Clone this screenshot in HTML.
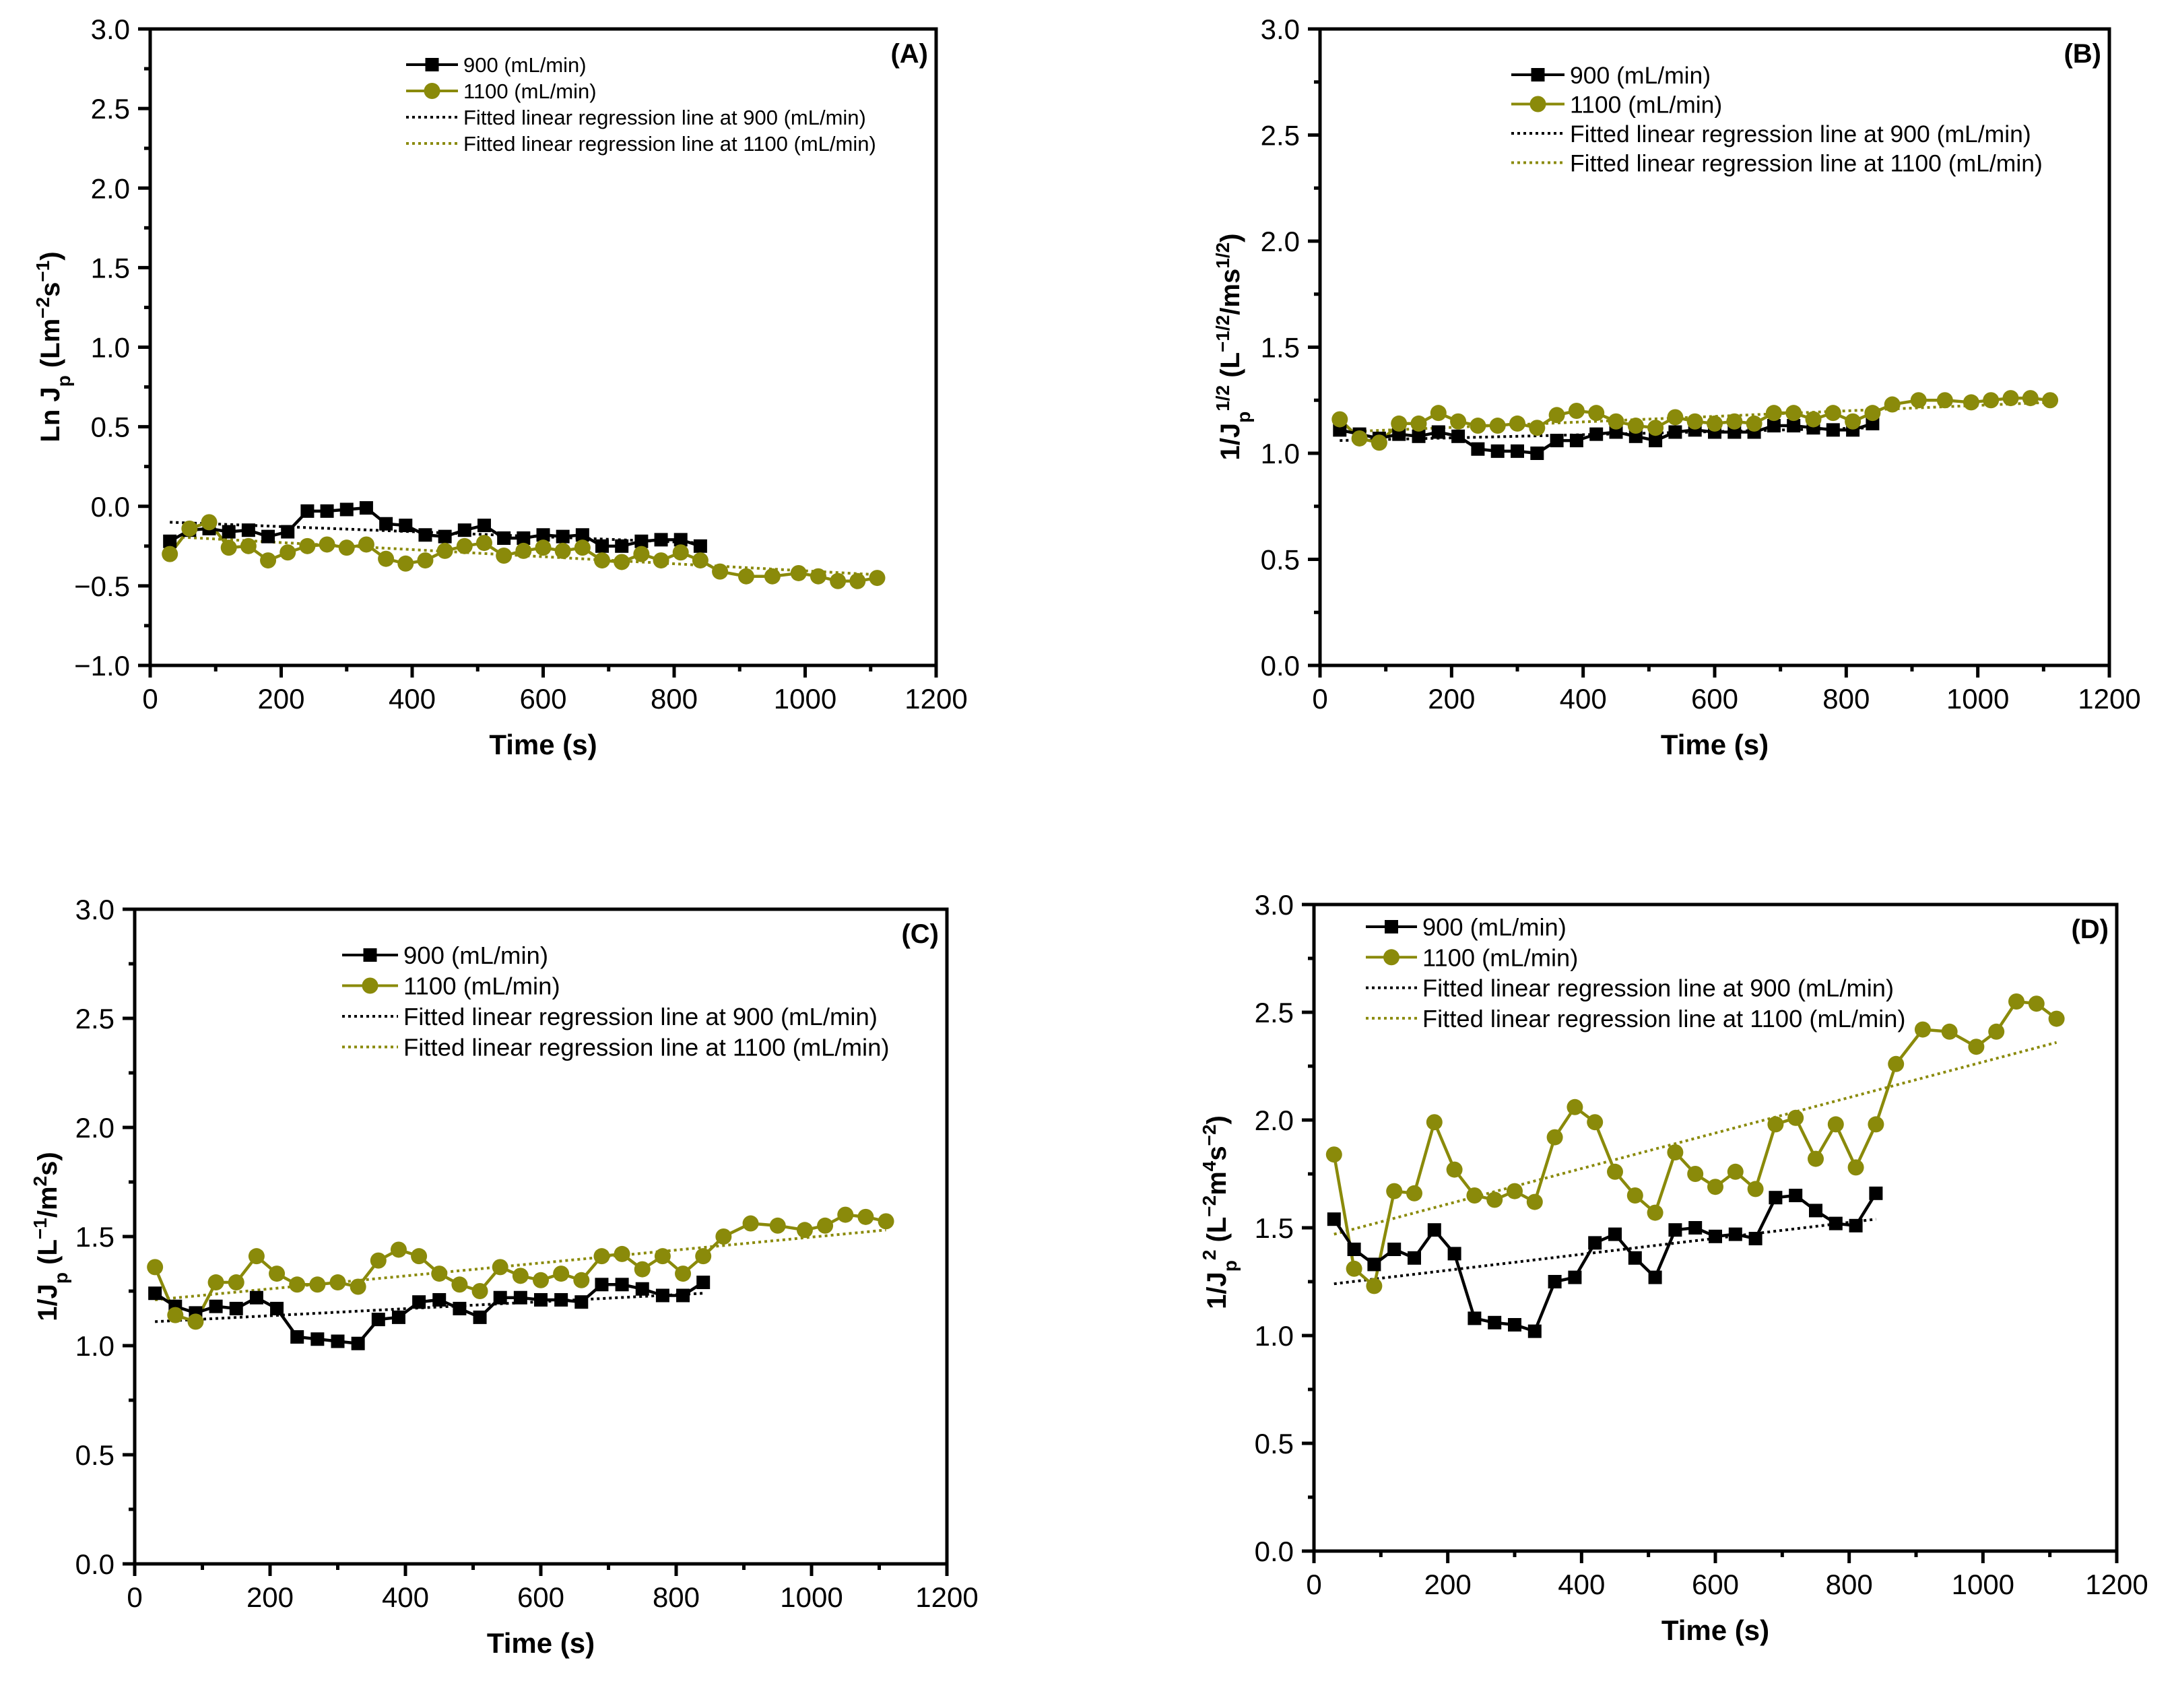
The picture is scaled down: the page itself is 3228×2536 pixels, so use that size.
<!DOCTYPE html>
<html><head><meta charset="utf-8"><style>
html,body{margin:0;padding:0;background:#fff}
svg{display:block}
text{font-family:"Liberation Sans",Arial,sans-serif;fill:#000}
</style></head><body>
<svg id="fig" width="3228" height="2536" viewBox="0 0 3228 2536" xmlns="http://www.w3.org/2000/svg">
<rect width="3228" height="2536" fill="#fff"/>
</svg>
<script>
const timeA = [30,60,90,120,150,180,210,240,270,300,330,360,390,420,450,480,510,540,570,600,630,660,690,720,750,780,810,840];
const timeB = [30,60,90,120,150,180,210,240,270,300,330,360,390,420,450,480,510,540,570,600,630,660,690,720,750,780,810,840,870,910,950,990,1020,1050,1080,1110];
const xTicks = [0,200,400,600,800,1000,1200];

const lnJ900 = [-0.22,-0.15,-0.14,-0.16,-0.15,-0.19,-0.16,-0.03,-0.03,-0.02,-0.01,-0.11,-0.12,-0.18,-0.19,-0.15,-0.12,-0.20,-0.20,-0.18,-0.19,-0.18,-0.25,-0.25,-0.22,-0.21,-0.21,-0.25];
const lnJ1100 = [-0.30,-0.14,-0.10,-0.26,-0.25,-0.34,-0.29,-0.25,-0.24,-0.26,-0.24,-0.33,-0.36,-0.34,-0.28,-0.25,-0.23,-0.31,-0.28,-0.26,-0.28,-0.26,-0.34,-0.35,-0.30,-0.34,-0.29,-0.34,-0.41,-0.44,-0.44,-0.42,-0.44,-0.47,-0.47,-0.45];
const lnFit900 = [-0.10,-0.23];
const lnFit1100 = [-0.19,-0.43];

const sq900 = [1.11,1.09,1.07,1.09,1.08,1.10,1.08,1.02,1.01,1.01,1.00,1.06,1.06,1.09,1.10,1.08,1.06,1.10,1.11,1.10,1.10,1.10,1.13,1.13,1.12,1.11,1.11,1.14];
const sq1100 = [1.16,1.07,1.05,1.14,1.14,1.19,1.15,1.13,1.13,1.14,1.12,1.18,1.20,1.19,1.15,1.13,1.12,1.17,1.15,1.14,1.15,1.14,1.19,1.19,1.16,1.19,1.15,1.19,1.23,1.25,1.25,1.24,1.25,1.26,1.26,1.25];
const sqFit900 = [1.06,1.12];
const sqFit1100 = [1.10,1.24];

const inv900 = [1.24,1.18,1.15,1.18,1.17,1.22,1.17,1.04,1.03,1.02,1.01,1.12,1.13,1.20,1.21,1.17,1.13,1.22,1.22,1.21,1.21,1.20,1.28,1.28,1.26,1.23,1.23,1.29];
const inv1100 = [1.36,1.14,1.11,1.29,1.29,1.41,1.33,1.28,1.28,1.29,1.27,1.39,1.44,1.41,1.33,1.28,1.25,1.36,1.32,1.30,1.33,1.30,1.41,1.42,1.35,1.41,1.33,1.41,1.50,1.56,1.55,1.53,1.55,1.60,1.59,1.57];
const invFit900 = [1.11,1.24];
const invFit1100 = [1.21,1.53];

const inv2_900 = [1.54,1.40,1.33,1.40,1.36,1.49,1.38,1.08,1.06,1.05,1.02,1.25,1.27,1.43,1.47,1.36,1.27,1.49,1.50,1.46,1.47,1.45,1.64,1.65,1.58,1.52,1.51,1.66];
const inv2_1100 = [1.84,1.31,1.23,1.67,1.66,1.99,1.77,1.65,1.63,1.67,1.62,1.92,2.06,1.99,1.76,1.65,1.57,1.85,1.75,1.69,1.76,1.68,1.98,2.01,1.82,1.98,1.78,1.98,2.26,2.42,2.41,2.34,2.41,2.55,2.54,2.47];
const inv2Fit900 = [1.24,1.54];
const inv2Fit1100 = [1.47,2.36];

const yTicksA = [-1.0,-0.5,0.0,0.5,1.0,1.5,2.0,2.5,3.0];
const yTicksB = [0.0,0.5,1.0,1.5,2.0,2.5,3.0];

const NS = "http://www.w3.org/2000/svg";
const OLIVE = "#8a8a0a";
const svg = document.getElementById("fig");
function mk(tag, attrs, parent){
  const e = document.createElementNS(NS, tag);
  for (const k in attrs) e.setAttribute(k, attrs[k]);
  (parent||svg).appendChild(e);
  return e;
}
function fmt(v){ const s = v.toFixed(1); return v < 0 ? "\u2212" + s.slice(1) : s; }

function panel(p){
  const g = mk("g", {});
  
  
  const X = v => p.L + (v - 0) / 1200 * (p.R - p.L);
  const Y = v => p.B - (v - p.ymin) / (p.ymax - p.ymin) * (p.B - p.T);
  const fr = mk("rect", {x:p.L, y:p.T, width:p.R-p.L, height:p.B-p.T, fill:"none", stroke:"#000", "stroke-width":5}, g);
  
  
  for (let v = 0; v <= 1200; v += 100){
    const major = v % 200 === 0;
    const t = mk("line", {x1:X(v), x2:X(v), y1:p.B, y2:p.B + (major?18:9), stroke:"#000", "stroke-width":5}, g);
    
    
  }
  xTicks.forEach(v => {
    const t = mk("text", {x:X(v), y:p.B+64, "font-size":42, "text-anchor":"middle"}, g);
    t.textContent = String(v);
    
    
  });
  for (let v = p.ymin; v <= p.ymax + 1e-9; v += 0.25){
    const major = Math.abs(v*2 - Math.round(v*2)) < 1e-6;
    const t = mk("line", {x1:p.L - (major?18:9), x2:p.L, y1:Y(v), y2:Y(v), stroke:"#000", "stroke-width":5}, g);
    
    
  }
  p.yTicks.forEach(v => {
    const t = mk("text", {x:p.L-30, y:Y(v)+15, "font-size":42, "text-anchor":"end"}, g);
    t.textContent = fmt(v);
    
    
  });
  const f1 = mk("line", {x1:X(30), y1:Y(p.fit900[0]), x2:X(840), y2:Y(p.fit900[1]), stroke:"#000", "stroke-width":4, "stroke-dasharray":"4 5"}, g);
  
  
  const f2 = mk("line", {x1:X(30), y1:Y(p.fit1100[0]), x2:X(1110), y2:Y(p.fit1100[1]), stroke:OLIVE, "stroke-width":4, "stroke-dasharray":"4 5"}, g);
  
  
  const l2 = mk("polyline", {points: timeB.map((t,i)=>X(t)+","+Y(p.s1100[i])).join(" "), fill:"none", stroke:OLIVE, "stroke-width":4.5}, g);
  
  
  const l1 = mk("polyline", {points: timeA.map((t,i)=>X(t)+","+Y(p.s900[i])).join(" "), fill:"none", stroke:"#000", "stroke-width":4.5}, g);
  
  
  timeA.forEach((t,i) => {
    const m = mk("rect", {x:X(t)-10, y:Y(p.s900[i])-10, width:20, height:20, fill:"#000"}, g);
    
    
  });
  timeB.forEach((t,i) => {
    const m = mk("circle", {cx:X(t), cy:Y(p.s1100[i]), r:12, fill:OLIVE}, g);
    
    
  });
  const lg = mk("g", {}, g);
  
  
  const labels = ["900 (mL/min)","1100 (mL/min)","Fitted linear regression line at 900 (mL/min)","Fitted linear regression line at 1100 (mL/min)"];
  labels.forEach((lab,i) => {
    const y = p.leg.y + i*p.leg.dy;
    const col = (i % 2 === 0) ? "#000" : OLIVE;
    const ent = mk("g", {}, lg);
    
    
    const ln = mk("line", {x1:p.leg.x1, x2:p.leg.x2, y1:y, y2:y, stroke: col, "stroke-width":4, "stroke-dasharray": i>=2 ? "4 5" : "none"}, ent);
    
    
    const mx = (p.leg.x1+p.leg.x2)/2;
    if (i === 0) { const m = mk("rect",{x:mx-10,y:y-10,width:20,height:20,fill:"#000"},ent);   }
    if (i === 1) { const m = mk("circle",{cx:mx,cy:y,r:12,fill:OLIVE},ent);   }
    const tx = mk("text", {x:p.leg.x2+8, y:y+p.leg.fs*0.36, "font-size":p.leg.fs}, ent);
    tx.textContent = lab;
    
    
  });
  const pl = mk("text", {x:p.R-12, y:p.T+50, "font-size":40, "font-weight":"bold", "text-anchor":"end"}, g);
  pl.textContent = p.label;
  
  
  const xt = mk("text", {x:(p.L+p.R)/2, y:p.B+132, "font-size":42, "font-weight":"bold", "text-anchor":"middle"}, g);
  xt.textContent = "Time (s)";
  
  
  const yt = mk("text", {x:0, y:0, "font-size":40, "font-weight":"bold", "text-anchor":"middle", transform:`translate(${p.ytx},${p.yty}) rotate(-90)`}, g);
  yt.innerHTML = p.ytitle;
  
  
}

panel({name:"panel-a", label:"(A)", L:223, R:1390, T:43, B:988, ymin:-1, ymax:3, yTicks:yTicksA,
  s900:lnJ900, s1100:lnJ1100, fit900:lnFit900, fit1100:lnFit1100,
  leg:{x1:603, x2:680, y:96, dy:39, fs:31}, ytx:88, yty:515,
  ytitle:'Ln J<tspan baseline-shift="sub" font-size="28">p</tspan> (Lm<tspan baseline-shift="super" font-size="28">\u22122</tspan>s<tspan baseline-shift="super" font-size="28">\u22121</tspan>)'});
panel({name:"panel-b", label:"(B)", L:1960, R:3132, T:43, B:988, ymin:0, ymax:3, yTicks:yTicksB,
  s900:sq900, s1100:sq1100, fit900:sqFit900, fit1100:sqFit1100,
  leg:{x1:2244, x2:2323, y:111, dy:43.5, fs:35.5}, ytx:1840, yty:515,
  ytitle:'1/J<tspan baseline-shift="sub" font-size="28">p</tspan><tspan baseline-shift="super" font-size="28">1/2</tspan> (L<tspan baseline-shift="super" font-size="28">\u22121/2</tspan>/ms<tspan baseline-shift="super" font-size="28">1/2</tspan>)'});
panel({name:"panel-c", label:"(C)", L:200, R:1406, T:1350, B:2322, ymin:0, ymax:3, yTicks:yTicksB,
  s900:inv900, s1100:inv1100, fit900:invFit900, fit1100:invFit1100,
  leg:{x1:508, x2:591, y:1418, dy:45.5, fs:36.5}, ytx:84, yty:1836,
  ytitle:'1/J<tspan baseline-shift="sub" font-size="28">p</tspan> (L<tspan baseline-shift="super" font-size="28">\u22121</tspan>/m<tspan baseline-shift="super" font-size="28">2</tspan>s)'});
panel({name:"panel-d", label:"(D)", L:1951, R:3143, T:1343, B:2303, ymin:0, ymax:3, yTicks:yTicksB,
  s900:inv2_900, s1100:inv2_1100, fit900:inv2Fit900, fit1100:inv2Fit1100,
  leg:{x1:2028, x2:2104, y:1376, dy:45.3, fs:36.3}, ytx:1820, yty:1800,
  ytitle:'1/J<tspan baseline-shift="sub" font-size="28">p</tspan><tspan baseline-shift="super" font-size="28">2</tspan> (L<tspan baseline-shift="super" font-size="28">\u22122</tspan>m<tspan baseline-shift="super" font-size="28">4</tspan>s<tspan baseline-shift="super" font-size="28">\u22122</tspan>)'});
</script>
</body></html>
